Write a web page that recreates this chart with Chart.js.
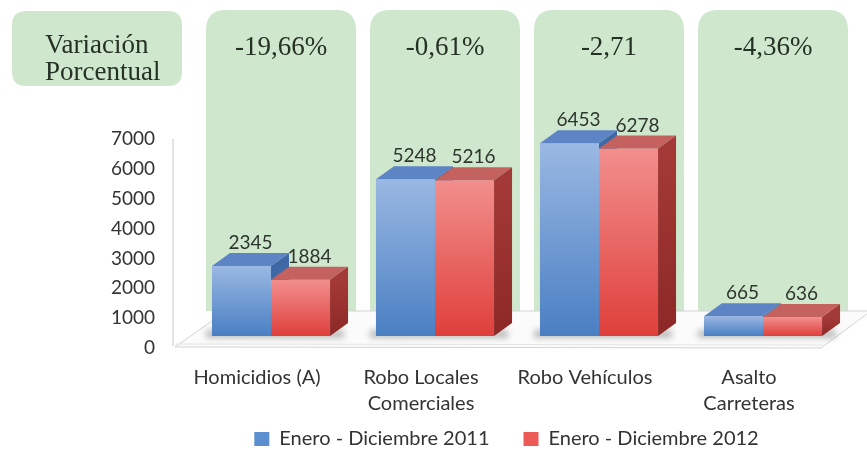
<!DOCTYPE html>
<html>
<head>
<meta charset="utf-8">
<script src="https://cdn.jsdelivr.net/npm/chart.js@4.4.1/dist/chart.umd.min.js"></script>
<style>
  html, body { margin: 0; padding: 0; background: #ffffff; }
  #wrap { width: 867px; height: 459px; position: relative; }
</style>
</head>
<body>
<div id="wrap"><canvas id="chart-crimes"></canvas></div>
<script>
const categories = ["Homicidios (A)", ["Robo Locales", "Comerciales"], "Robo Vehículos", ["Asalto", "Carreteras"]];
const values2011 = [2345, 5248, 6453, 665];
const values2012 = [1884, 5216, 6278, 636];
const variationLabels = ["-19,66%", "-0,61%", "-2,71", "-4,36%"];
const seriesNames = ["Enero - Diciembre 2011", "Enero - Diciembre 2012"];

const DX = 18;
const DY = -13;
const GREEN = "#cfe8cd";
const SANS = "Lato, 'Open Sans', sans-serif";

const faceColors = [
  { light: "#9ab8e3", dark: "#4a7fc3", top: "#5d85c5", side: "#3f68a6", key: "#5b8fd0" },
  { light: "#f28f8d", dark: "#df3f3b", top: "#c4625f", side: "#a43a37", key: "#ec5b58" },
];

function barGradient(ctx, i) {
  const chart = ctx.chart;
  const colors = faceColors[i];
  if (!chart.chartArea) return colors.dark;
  const y = chart.scales.y;
  const top = y.getPixelForValue(ctx.raw);
  const bottom = y.getPixelForValue(0);
  const g = chart.ctx.createLinearGradient(0, top, 0, bottom);
  g.addColorStop(0, colors.light);
  g.addColorStop(1, colors.dark);
  return g;
}

function roundTopRect(c, x, y, w, h, r) {
  c.beginPath();
  c.moveTo(x, y + h);
  c.lineTo(x, y + r);
  c.quadraticCurveTo(x, y, x + r, y);
  c.lineTo(x + w - r, y);
  c.quadraticCurveTo(x + w, y, x + w, y + r);
  c.lineTo(x + w, y + h);
  c.closePath();
}

function roundRect(c, x, y, w, h, r) {
  c.beginPath();
  c.moveTo(x + r, y);
  c.lineTo(x + w - r, y);
  c.quadraticCurveTo(x + w, y, x + w, y + r);
  c.lineTo(x + w, y + h - r);
  c.quadraticCurveTo(x + w, y + h, x + w - r, y + h);
  c.lineTo(x + r, y + h);
  c.quadraticCurveTo(x, y + h, x, y + h - r);
  c.lineTo(x, y + r);
  c.quadraticCurveTo(x, y, x + r, y);
  c.closePath();
}

function poly(c, pts, fill) {
  c.beginPath();
  c.moveTo(pts[0][0], pts[0][1]);
  for (let k = 1; k < pts.length; k++) c.lineTo(pts[k][0], pts[k][1]);
  c.closePath();
  c.fillStyle = fill;
  c.fill();
}

function barBox(bar) {
  const p = bar.getProps(["x", "y", "base", "width"], true);
  return { left: p.x - p.width / 2, right: p.x + p.width / 2, top: p.y, base: p.base, x: p.x };
}

const backdropPlugin = {
  id: "backdrop",
  afterLayout(chart) {
    // legend sits a bit right of centre in the original
    chart.legend.left += 30;
    chart.legend.right += 30;
  },
  beforeDraw(chart) {
    const c = chart.ctx;
    const area = chart.chartArea;
    const xs = chart.scales.x;
    const base = area.bottom;
    c.save();

    // label box on the left
    roundRect(c, 12, 11, 170, 75, 14);
    c.fillStyle = GREEN;
    c.fill();
    c.fillStyle = "#263126";
    c.font = "27px 'Liberation Serif', 'DejaVu Serif', serif";
    c.textAlign = "left";
    c.textBaseline = "alphabetic";
    c.fillText("Variación", 45, 53);
    c.fillText("Porcentual", 45, 80);

    // green panels behind each category
    variationLabels.forEach((txt, i) => {
      const cx = xs.getPixelForValue(i) + 10;
      roundTopRect(c, cx - 75, 10, 150, base - 25 - 10, 20);
      c.fillStyle = GREEN;
      c.fill();
      c.fillStyle = "#263126";
      c.textAlign = "center";
      c.fillText(txt, cx, 55);
    });

    // floor
    const frontY = base + 11;
    const backY = base - 25;
    c.beginPath();
    c.moveTo(area.left - 14, frontY);
    c.lineTo(area.right - 24, frontY + 1);
    c.lineTo(area.right + 26, backY);
    c.lineTo(area.left + 37, backY);
    c.closePath();
    c.fillStyle = "#fbfbfb";
    c.fill();
    c.strokeStyle = "#d3d3d3";
    c.lineWidth = 1;
    c.stroke();
    c.beginPath();
    c.moveTo(area.left - 14, frontY - 3);
    c.lineTo(area.right - 22, frontY - 2);
    c.strokeStyle = "#e6e6e6";
    c.stroke();

    // axis wall edge
    c.beginPath();
    c.moveTo(area.left - 16, chart.scales.y.getPixelForValue(7000) + 12);
    c.lineTo(area.left - 16, frontY - 1);
    c.strokeStyle = "#c8c8c8";
    c.stroke();
    c.restore();
  },
  beforeDatasetsDraw(chart) {
    const c = chart.ctx;
    c.save();
    const m0 = chart.getDatasetMeta(0);
    const m1 = chart.getDatasetMeta(1);
    // soft shadows on the floor
    m0.data.forEach((bar, j) => {
      const a = barBox(bar);
      const b = barBox(m1.data[j]);
      c.fillStyle = "rgba(0,0,0,0.25)";
      c.filter = "blur(3px)";
      c.fillRect(a.left - 6, a.base - 6, b.right + DX - a.left + 2, 8);
      c.filter = "none";
    });
    // sides of the first series, partly hidden by the second
    m0.data.forEach((bar) => {
      const a = barBox(bar);
      poly(c, [[a.right, a.top], [a.right + DX, a.top + DY], [a.right + DX, a.base + DY], [a.right, a.base]], faceColors[0].side);
    });
    c.restore();
  },
  afterDatasetsDraw(chart) {
    const c = chart.ctx;
    c.save();
    [0, 1].forEach((i) => {
      const meta = chart.getDatasetMeta(i);
      meta.data.forEach((bar) => {
        const a = barBox(bar);
        poly(c, [[a.left, a.top], [a.right, a.top], [a.right + DX, a.top + DY], [a.left + DX, a.top + DY]], faceColors[i].top);
        if (i === 1) {
          const g = c.createLinearGradient(0, a.top, 0, a.base);
          g.addColorStop(0, faceColors[1].side);
          g.addColorStop(1, "#8c2826");
          poly(c, [[a.right, a.top], [a.right + DX, a.top + DY], [a.right + DX, a.base + DY], [a.right, a.base]], g);
        }
      });
    });
    c.fillStyle = "#2e352e";
    c.font = "19px " + SANS;
    c.textAlign = "center";
    c.textBaseline = "alphabetic";
    [values2011, values2012].forEach((vals, i) => {
      const meta = chart.getDatasetMeta(i);
      meta.data.forEach((bar, j) => {
        const a = barBox(bar);
        c.fillText(String(vals[j]), a.x + DX / 2, a.top + DY - 4);
      });
    });
    c.restore();
  },
};

new Chart(document.getElementById("chart-crimes"), {
  type: "bar",
  data: {
    labels: categories,
    datasets: [
      {
        label: seriesNames[0],
        data: values2011,
        backgroundColor: (ctx) => barGradient(ctx, 0),
        borderWidth: 0,
        categoryPercentage: 0.72,
        barPercentage: 1.0,
      },
      {
        label: seriesNames[1],
        data: values2012,
        backgroundColor: (ctx) => barGradient(ctx, 1),
        borderWidth: 0,
        categoryPercentage: 0.72,
        barPercentage: 1.0,
      },
    ],
  },
  options: {
    responsive: true,
    maintainAspectRatio: false,
    animation: false,
    layout: { padding: { left: 108, right: 22, top: 127, bottom: 0 } },
    plugins: {
      tooltip: { enabled: false },
      legend: {
        position: "bottom",
        labels: {
          boxWidth: 15,
          boxHeight: 14,
          padding: 9,
          color: "#333333",
          font: { family: SANS, size: 20 },
          generateLabels: () =>
            seriesNames.map((name, i) => ({
              text: i === 0 ? name + "\u2003\u2002" : name,
              fillStyle: faceColors[i].key,
              strokeStyle: "rgba(0,0,0,0)",
              fontColor: "#333333",
              lineWidth: 0,
              datasetIndex: i,
              hidden: false,
            })),
        },
      },
    },
    scales: {
      x: {
        grid: { display: false, drawTicks: false },
        border: { display: false },
        afterFit: (scale) => {
          scale.height = 84;
        },
        ticks: {
          color: "#333333",
          padding: 29,
          labelOffset: -14,
          maxRotation: 0,
          autoSkip: false,
          font: { family: SANS, size: 20, lineHeight: "26px" },
        },
      },
      y: {
        min: 0,
        max: 7000,
        grid: { display: false, drawTicks: false },
        border: { display: false },
        afterFit: (scale) => {
          scale.width = 81;
        },
        ticks: {
          stepSize: 1000,
          color: "#333333",
          padding: 34,
          labelOffset: 12,
          callback: (value) => String(value),
          font: { family: SANS, size: 19 },
        },
      },
    },
  },
  plugins: [backdropPlugin],
});
</script>
</body>
</html>
